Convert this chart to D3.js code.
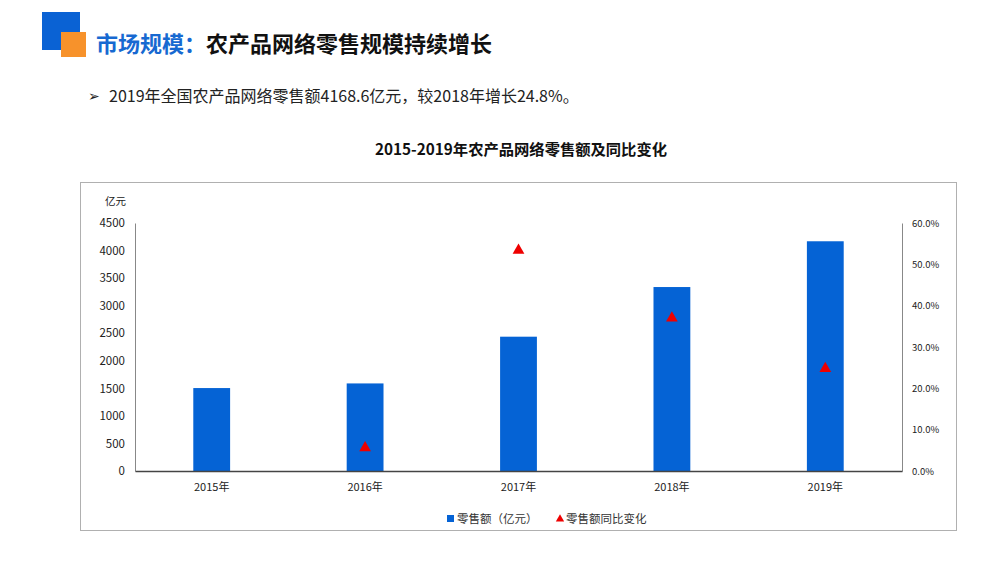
<!DOCTYPE html>
<html><head><meta charset="utf-8">
<script src="https://cdn.jsdelivr.net/npm/d3@7"></script>
<style>
body{margin:0;background:#fff;}
svg text{font-family:"Noto Sans CJK SC","Microsoft YaHei",sans-serif;}
</style></head>
<body><svg id="c" width="997" height="561"></svg>
<script>
const years = ["2015年","2016年","2017年","2018年","2019年"];
const sales = [1505, 1589, 2437, 3338, 4168.6];
const growth = [null, 5.6, 53.4, 37.0, 24.8];
const leftTicks = [0,500,1000,1500,2000,2500,3000,3500,4000,4500];
const rightTicks = [0,10,20,30,40,50,60];

const svg = d3.select("#c");
// header
svg.append("rect").attr("x",42).attr("y",12).attr("width",38).attr("height",38).attr("fill","#0a62d4");
svg.append("rect").attr("x",61).attr("y",32).attr("width",25).attr("height",25).attr("fill","#f7922b");
const t = svg.append("text").attr("x",96).attr("y",52).attr("font-size",22).attr("font-weight","bold");
t.append("tspan").attr("fill","#1769d1").text("市场规模：");
t.append("tspan").attr("fill","#111").text("农产品网络零售规模持续增长");
svg.append("text").attr("x",88).attr("y",101).attr("font-size",14).attr("fill","#222").text("➢");
svg.append("text").attr("x",109).attr("y",102).attr("font-size",16).attr("fill","#222")
  .text("2019年全国农产品网络零售额4168.6亿元，较2018年增长24.8%。");
svg.append("text").attr("x",521).attr("y",155).attr("text-anchor","middle").attr("font-size",15.3)
  .attr("font-weight","bold").attr("fill","#111").text("2015-2019年农产品网络零售额及同比变化");

// chart box
svg.append("rect").attr("x",80.5).attr("y",182.5).attr("width",876).attr("height",348)
  .attr("fill","none").attr("stroke","#b0b0b0");

const L=135, R=902, T=223, B=471;
const x = d3.scaleBand().domain(years).range([L,R]).paddingInner(0.76).paddingOuter(0.38);
const y = d3.scaleLinear().domain([0,4500]).range([B,T]);
const y2 = d3.scaleLinear().domain([0,60]).range([B,T]);

// left axis
const la = svg.append("g").attr("transform",`translate(${L},0)`)
  .call(d3.axisLeft(y).tickValues(leftTicks).tickSize(0).tickPadding(10).tickFormat(d3.format("d")));
la.select(".domain").attr("stroke","#888");
la.selectAll("text").attr("font-size",11.5).attr("fill","#222");
svg.append("text").attr("x",126).attr("y",205).attr("text-anchor","end").attr("font-size",10.5).attr("fill","#222").text("亿元");

// right axis
const ra = svg.append("g").attr("transform",`translate(${R},0)`)
  .call(d3.axisRight(y2).tickValues(rightTicks).tickSize(0).tickPadding(10).tickFormat(d=>d.toFixed(1)+"%"));
ra.select(".domain").attr("stroke","#888");
ra.selectAll("text").attr("font-size",9.5).attr("fill","#222");

// bars
svg.append("g").selectAll("rect").data(sales).join("rect")
  .attr("x",(d,i)=>x(years[i])).attr("width",x.bandwidth())
  .attr("y",d=>y(d)).attr("height",d=>B-y(d)).attr("fill","#0563d5");

// bottom axis
const ba = svg.append("g").attr("transform",`translate(0,${B})`)
  .call(d3.axisBottom(x).tickSize(0).tickPadding(12));
ba.select(".domain").attr("stroke","#444").attr("stroke-width",1.5);
ba.selectAll("text").attr("font-size",11).attr("fill","#222");

// triangles
const tri = d3.symbol().type(d3.symbolTriangle).size(60);
svg.append("g").selectAll("path").data(growth.map((g,i)=>({g,i})).filter(d=>d.g!=null)).join("path")
  .attr("d",tri).attr("fill","#ee0000")
  .attr("transform",d=>`translate(${x(years[d.i])+x.bandwidth()/2},${y2(d.g)})`);

// legend
svg.append("rect").attr("x",447).attr("y",515).attr("width",7).attr("height",7).attr("fill","#0563d5");
svg.append("text").attr("x",457).attr("y",523).attr("font-size",11.5).attr("fill","#333").text("零售额（亿元）");
svg.append("path").attr("d",d3.symbol().type(d3.symbolTriangle).size(30)).attr("fill","#ee0000")
  .attr("transform","translate(560,519)");
svg.append("text").attr("x",566).attr("y",523).attr("font-size",11.5).attr("fill","#333").text("零售额同比变化");
</script></body></html>
